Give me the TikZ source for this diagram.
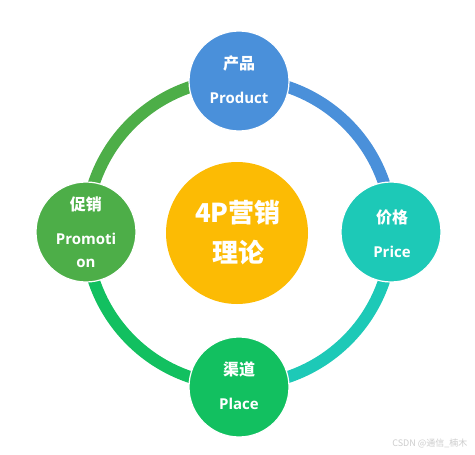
\documentclass[tikz,border=0pt]{standalone}
\usepackage{fontspec}
\setmainfont{Open Sans}
\newfontfamily\cjk{Noto Sans CJK SC}
\definecolor{cblue}{RGB}{74,144,218}
\definecolor{cteal}{RGB}{29,201,183}
\definecolor{cgreenB}{RGB}{18,192,96}
\definecolor{cgreenL}{RGB}{77,174,72}
\definecolor{cyellow}{RGB}{252,187,4}
\definecolor{wmark}{RGB}{205,205,205}
\tikzset{
  ring/.style={line width=12pt},
  pcircle/.style={circle, draw=white, line width=1.2pt, minimum size=100pt, inner sep=0pt},
  zh/.style={text=white, font=\cjk\bfseries\fontsize{16}{18}\selectfont},
  en/.style={text=white, font=\bfseries\fontsize{15}{18}\selectfont},
  big/.style={text=white, font=\cjk\bfseries\fontsize{26}{30}\selectfont},
}
\begin{document}
\begin{tikzpicture}[x=1pt,y=1pt]
\useasboundingbox (0,0) rectangle (475,-455);
\fill[white] (0,0) rectangle (475,-455);
\coordinate (o) at (239,-232);
% ring arcs
\draw[ring, cblue]   ([shift={(90:153pt)}]o) arc[start angle=90, end angle=0, radius=153pt];
\draw[ring, cteal]   ([shift={(0:153pt)}]o) arc[start angle=0, end angle=-90, radius=153pt];
\draw[ring, cgreenB] ([shift={(-90:153pt)}]o) arc[start angle=-90, end angle=-180, radius=153pt];
\draw[ring, cgreenL] ([shift={(180:153pt)}]o) arc[start angle=180, end angle=90, radius=153pt];
% circles
\node[pcircle, fill=cblue]   (top)    at (239,-81) {};
\node[pcircle, fill=cteal]   (right)  at (391,-232) {};
\node[pcircle, fill=cgreenB] (bottom) at (239,-387) {};
\node[pcircle, fill=cgreenL] (left)   at (86,-232) {};
\node[circle, fill=cyellow, minimum size=142pt, inner sep=0pt] (center) at (237,-233) {};
% labels
\node[zh] (t1) at (239,-63) {产品};
\node[en] (t2) at (239,-98) {Product};
\node[zh] (r1) at (392,-217) {价格};
\node[en] (r2) at (392,-252) {Price};
\node[zh] (b1) at (239,-369) {渠道};
\node[en] (b2) at (239,-404) {Place};
\node[zh] (l1) at (86,-204) {促销};
\node[en] (l2) at (86,-239) {Promoti};
\node[en] (l3) at (86,-263) {on};
\node[big] (c1) at (238,-213) {4P营销};
\node[big] (c2) at (238,-253) {理论};
\node[text=wmark, font=\cjk\fontsize{9}{10}\selectfont, anchor=east] (wm) at (471,-443) {CSDN @通信\_楠木};
\end{tikzpicture}
\end{document}
